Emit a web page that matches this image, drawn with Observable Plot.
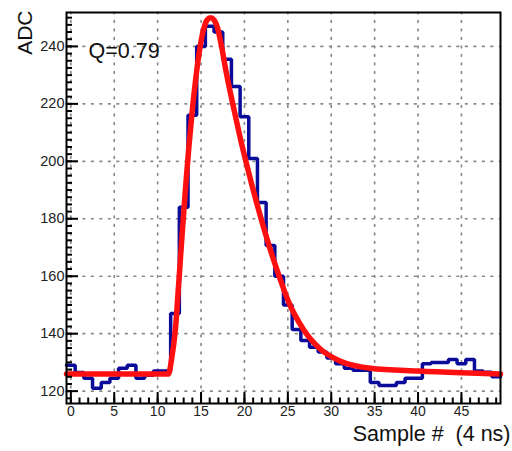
<!DOCTYPE html>
<html>
<head>
<meta charset="utf-8">
<script src="https://cdn.jsdelivr.net/npm/d3@7"></script>
<script src="https://cdn.jsdelivr.net/npm/@observablehq/plot@0.6"></script>
<style>
  html, body { margin: 0; padding: 0; background: #fff; }
  #chart { width: 512px; height: 451px; }
</style>
</head>
<body>
<div id="chart"></div>
<script>
// ---- data ----
// histogram: ADC value for each sample (bin centred on the sample number)
const adcValues = [
  129, 126.5, 124.5, 121, 123, 124.5, 128, 129, 124.5, 125.5,
  127, 127, 147, 184, 216, 240, 247, 245, 235.5, 226,
  215.5, 201, 185.7, 170.7, 160, 150, 141.5, 137.6, 135.3, 133.6,
  131.5, 129.5, 128, 127.3, 127.3, 123, 122, 122, 123, 124.5,
  124.5, 129.5, 130, 130, 131, 129.5, 131, 127, 126.6, 125
];
// fitted pulse shape (red)
const fitSample = [-0.5, 5, 11.25, 11.6, 12.06, 12.44, 12.9, 13.3, 13.6, 14.0, 14.4, 14.9, 15.3, 15.7, 16.1, 16.5, 16.9, 17.3, 17.9, 18.8, 19.6, 20.5, 21.5, 22.8, 24, 25.1, 26.8, 28.8, 31, 34.5, 40, 45, 49.5];
const fitAdc    = [126, 126, 126, 131, 142, 158, 178, 194, 205, 218, 229, 240, 246, 249.2, 250, 249.2, 246.5, 241, 231, 218, 207, 196, 184.5, 171, 160, 151, 141.5, 134.5, 130.5, 128, 127, 126.4, 126];
// axes
const xMajorTicks = [0, 5, 10, 15, 20, 25, 30, 35, 40, 45];
const xMinorTicks = d3.range(0, 50, 1);
const yMajorTicks = [120, 140, 160, 180, 200, 220, 240];
const yMinorTicks = d3.range(117.5, 251, 2.5);
const xDomain = [-0.5, 49.5];
const yDomain = [115.7, 251.8];
const xTitle = "Sample #  (4 ns)";
const yTitle = "ADC";
const annotation = "Q=0.79";

// ---- derived tables ----
const histPoints = adcValues.map((v, i) => ({x: i - 0.5, y: v}));
histPoints.push({x: adcValues.length - 0.5, y: adcValues[adcValues.length - 1]});
const fitPoints = fitSample.map((s, i) => ({x: s, y: fitAdc[i]}));

const W = 512, H = 451;
const mL = 66, mR = 12, mT = 12, mB = 48;
const plotW = W - mL - mR, plotH = H - mT - mB;
const font = "'Liberation Sans', Arial, Helvetica, sans-serif";

const chart = Plot.plot({
  width: W, height: H,
  marginLeft: mL, marginRight: mR, marginTop: mT, marginBottom: mB,
  style: {fontFamily: font, background: "#fff", overflow: "visible"},
  x: {domain: xDomain, axis: null},
  y: {domain: yDomain, axis: null},
  marks: [
    // dotted grid
    Plot.ruleX(xMajorTicks, {x: d => d, stroke: "#8a8a8a", strokeWidth: 1.7, strokeDasharray: "1.7,6.8", strokeLinecap: "round"}),
    Plot.ruleY(yMajorTicks, {y: d => d, stroke: "#8a8a8a", strokeWidth: 1.7, strokeDasharray: "1.7,6.8", strokeLinecap: "round"}),
    // histogram
    Plot.line(histPoints, {x: "x", y: "y", curve: "step-after", stroke: "#0b0b9a", strokeWidth: 3.5, strokeLinejoin: "miter"}),
    // fit
    Plot.line(fitPoints, {x: "x", y: "y", curve: "monotone-x", stroke: "#ff1010", strokeWidth: 5.5}),
    // inward ticks on the bottom axis
    Plot.tickX(xMinorTicks, {x: d => d, stroke: "#000", strokeWidth: 2, insetTop: plotH - 5.5}),
    Plot.tickX(xMajorTicks, {x: d => d, stroke: "#000", strokeWidth: 2, insetTop: plotH - 11}),
    // inward ticks on the left axis
    Plot.tickY(yMinorTicks, {y: d => d, stroke: "#000", strokeWidth: 2, insetRight: plotW - 6}),
    Plot.tickY(yMajorTicks, {y: d => d, stroke: "#000", strokeWidth: 2, insetRight: plotW - 12}),
    // frame
    Plot.frame({stroke: "#000", strokeWidth: 2}),
    // tick labels
    Plot.axisX(xMajorTicks, {anchor: "bottom", tickSize: 0, tickPadding: 3, fontSize: 14, fill: "#222", label: null}),
    Plot.axisY(yMajorTicks, {anchor: "left", tickSize: 0, tickPadding: 2, fontSize: 14.5, fill: "#222", label: null}),
    // titles
    Plot.text([yTitle], {frameAnchor: "top-left", text: d => d, rotate: -90, textAnchor: "end", lineAnchor: "middle", dx: -41, dy: -2, fontSize: 21, fill: "#111"}),
    Plot.text([xTitle], {frameAnchor: "bottom-right", text: d => d, textAnchor: "end", lineAnchor: "middle", dx: 10, dy: 31, fontSize: 21.5, fill: "#111"}),
    Plot.text([annotation], {frameAnchor: "top-left", text: d => d, textAnchor: "start", lineAnchor: "middle", dx: 22, dy: 39, fontSize: 21.5, fill: "#111"})
  ]
});
document.getElementById("chart").appendChild(chart);
</script>
</body>
</html>
